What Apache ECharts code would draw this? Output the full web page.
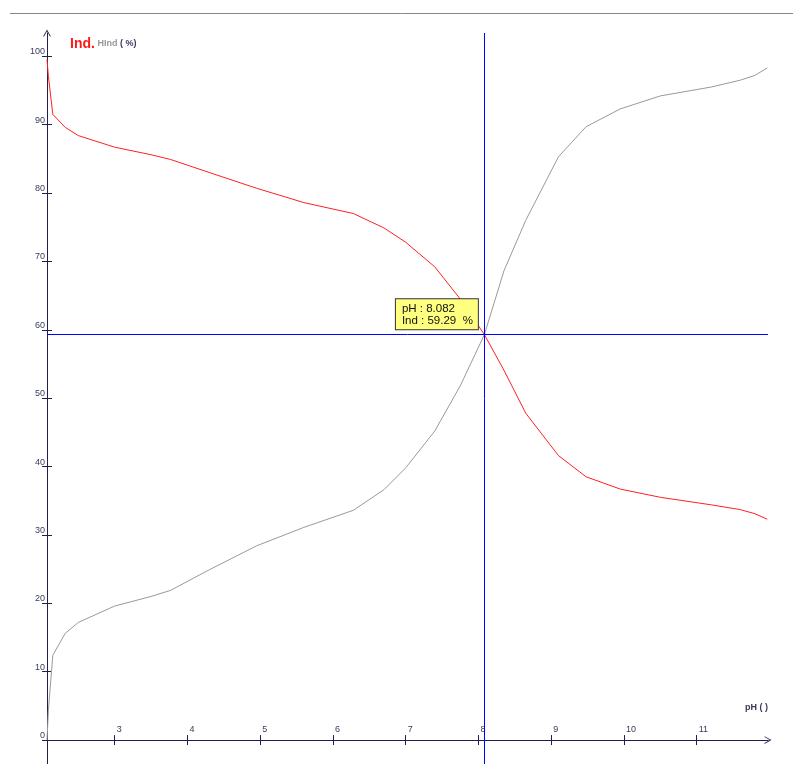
<!DOCTYPE html>
<html>
<head>
<meta charset="utf-8">
<script src="https://cdn.jsdelivr.net/npm/echarts@6/dist/echarts.min.js"></script>
<style>
html,body{margin:0;padding:0;background:#fff;}
#chart{width:793px;height:764px;}
</style>
</head>
<body>
<div id="chart"></div>
<script>
// ---- data ----
var pH   = [2.07, 2.09, 2.15, 2.32, 2.5, 3.0, 3.5, 3.77, 4.3, 4.95, 5.6, 6.28, 6.7, 7.0, 7.4, 7.75, 8.082, 8.35, 8.65, 9.1, 9.48, 9.95, 10.5, 11.2, 11.6, 11.8, 11.97];
var ind  = [99.5, 97.0, 91.5, 89.6, 88.4, 86.7, 85.6, 84.9, 83.0, 80.7, 78.6, 77.0, 74.9, 72.8, 69.2, 64.5, 59.29, 54.1, 47.8, 41.6, 38.5, 36.7, 35.5, 34.4, 33.7, 33.1, 32.3];
var hind = [0.0, 4.5, 12.4, 15.6, 17.2, 19.6, 21.0, 21.9, 24.9, 28.4, 31.1, 33.6, 36.6, 39.8, 45.2, 51.8, 59.29, 68.6, 76.0, 85.3, 89.7, 92.3, 94.2, 95.5, 96.5, 97.2, 98.3];
var xTicks = [3, 4, 5, 6, 7, 8, 9, 10, 11];
var yTicks = [0, 10, 20, 30, 40, 50, 60, 70, 80, 90, 100];
var cursorPH = 8.082;
var cursorVal = 59.29;

var indData = pH.map(function (x, i) { return [x, ind[i]]; });
var hindData = pH.map(function (x, i) { return [x, hind[i]]; });

var axisColor = '#1f1f4f';
var labelColor = '#3a3a5a';
var chevron = 'path://M5,0 L10,9 L8.8,9 L5,2.2 L1.2,9 L0,9 Z';

var chart = echarts.init(document.getElementById('chart'), null, {renderer: 'canvas'});
chart.setOption({
  animation: false,
  backgroundColor: '#fff',
  title: {
    text: '{a|Ind}{b|.}{c| HInd}{d| ( %)}',
    left: 65, top: 32,
    textStyle: {
      rich: {
        a: {fontFamily: 'Liberation Sans', fontSize: 14, fontWeight: 'bold', color: '#ff1a1a'},
        b: {fontFamily: 'Liberation Sans', fontSize: 14, fontWeight: 'bold', color: '#ff1a1a'},
        c: {fontFamily: 'Liberation Sans', fontSize: 9, color: '#999999'},
        d: {fontFamily: 'Liberation Sans', fontSize: 9, fontWeight: 'bold', color: '#3a3a6a'}
      }
    }
  },
  graphic: [{
    type: 'line', shape: {x1: 10, y1: 13.5, x2: 793, y2: 13.5},
    style: {stroke: '#888', lineWidth: 1}, silent: true
  }],
  grid: {left: 47, right: 25, top: 33, bottom: 0, containLabel: false},
  xAxis: [{
    type: 'value', min: 2.07, max: 11.98,
    position: 'bottom',
    axisLine: {show: true, onZero: true, symbol: ['none', chevron], symbolSize: [10, 7], lineStyle: {color: axisColor, width: 1}},
    axisTick: {show: true, inside: false, length: 5, customValues: xTicks, lineStyle: {color: axisColor}},
    axisLabel: {show: true, inside: true, customValues: xTicks, align: 'left', verticalAlign: 'bottom', margin: 30,
      padding: [0, 0, 0, 2], color: labelColor, fontFamily: 'Liberation Sans', fontSize: 9},
    splitLine: {show: false},
    name: 'pH ( )', nameLocation: 'end', nameGap: 0,
    nameTextStyle: {align: 'right', verticalAlign: 'bottom', padding: [0, 0, 28, 0], color: labelColor, fontFamily: 'Liberation Sans', fontSize: 9, fontWeight: 'bold'}
  }, {
    type: 'value', min: 2.07, max: 11.98,
    position: 'bottom',
    axisLine: {show: true, onZero: true, lineStyle: {color: axisColor, width: 1}},
    axisTick: {show: true, inside: true, length: 5, customValues: xTicks, lineStyle: {color: axisColor}},
    axisLabel: {show: false},
    splitLine: {show: false}
  }],
  yAxis: [{
    type: 'value', min: -3.5, max: 103.4,
    position: 'left',
    axisLine: {show: true, onZero: false, symbol: ['none', chevron], symbolSize: [10, 7], lineStyle: {color: axisColor, width: 1}},
    axisTick: {show: true, inside: false, length: 5, customValues: yTicks, lineStyle: {color: axisColor}},
    axisLabel: {show: true, customValues: yTicks, verticalAlign: 'bottom', align: 'right', margin: 2,
      color: labelColor, fontFamily: 'Liberation Sans', fontSize: 9},
    splitLine: {show: false}
  }, {
    type: 'value', min: -3.5, max: 103.4,
    position: 'left',
    axisLine: {show: false, onZero: false},
    axisTick: {show: true, inside: true, length: 5, customValues: yTicks, lineStyle: {color: axisColor}},
    axisLabel: {show: false},
    splitLine: {show: false}
  }],
  series: [{
    name: 'HInd', type: 'line', data: hindData, xAxisIndex: 0, yAxisIndex: 0,
    showSymbol: false, silent: true,
    lineStyle: {color: '#9a9a9a', width: 1}
  }, {
    name: 'Ind', type: 'line', data: indData, xAxisIndex: 0, yAxisIndex: 0,
    showSymbol: false, silent: true,
    lineStyle: {color: '#ff2020', width: 1},
    markLine: {
      silent: true, symbol: ['none', 'none'], animation: false,
      label: {show: false},
      lineStyle: {color: '#0000ff', type: 'solid', width: 1},
      data: [{xAxis: cursorPH}, {yAxis: cursorVal}]
    },
    markPoint: {
      silent: true, animation: false,
      symbol: 'rect', symbolSize: 1,
      itemStyle: {color: 'rgba(0,0,0,0)'},
      label: {
        show: true,
        position: [-88, -35],
        formatter: 'pH : ' + cursorPH.toFixed(3) + '\nInd : ' + cursorVal.toFixed(2) + '  %',
        backgroundColor: '#ffff80', borderColor: '#333', borderWidth: 1,
        padding: [3, 5, 2, 6], lineHeight: 12.5,
        color: '#111', fontFamily: 'Liberation Sans', fontSize: 11.5, align: 'left', verticalAlign: 'top'
      },
      data: [{coord: [cursorPH, cursorVal]}]
    }
  }]
});
</script>
</body>
</html>
